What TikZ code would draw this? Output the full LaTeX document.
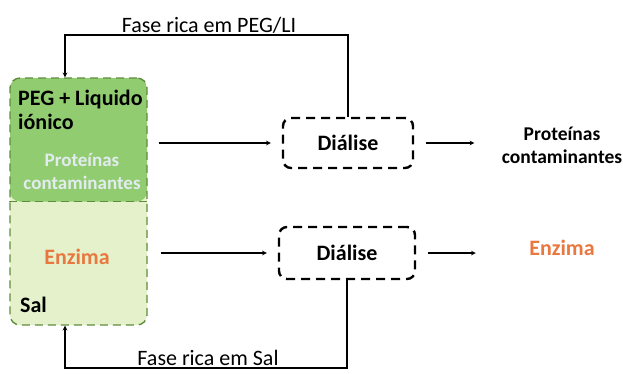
\documentclass[tikz,border=0pt]{standalone}
\usepackage{fontspec}
\setmainfont{Carlito}
\usepackage{tikz}
\usetikzlibrary{positioning,calc}
\tikzset{>=stealth}
\newcommand{\fonteg}{\fontsize{22}{23.5}\selectfont}
\definecolor{pegverde}{RGB}{146,204,112}
\definecolor{salverde}{RGB}{228,241,202}
\definecolor{bordaverde}{RGB}{96,140,62}
\definecolor{laranja}{RGB}{232,120,64}
\definecolor{palido}{RGB}{226,236,240}
\tikzset{
  tubo/.style={draw=bordaverde, dash pattern=on 8pt off 5pt, line width=1.4pt, rounded corners=10pt,
    minimum width=137pt, minimum height=247pt, fill=salverde,
    path picture={\fill[pegverde] (path picture bounding box.north west) rectangle (path picture bounding box.east);}},
  dialise/.style={draw, dash pattern=on 9pt off 6pt, line width=2.4pt, rounded corners=8pt,
    font=\fonteg\bfseries, minimum width=130pt, minimum height=50pt},
  seta/.style={->, line width=1.1pt},
  rotulo/.style={font=\fonteg\bfseries, align=center},
}

\begin{document}
\begin{tikzpicture}[x=1pt,y=-1pt,font=\fonteg]
    \useasboundingbox (0,0) rectangle (623,373);

    \node[tubo] at (78.5,201.5) (tubo) {};
    \draw[bordaverde, dash pattern=on 8pt off 5pt, line width=1.4pt] (tubo.west)--(tubo.east);
    \node[rotulo, align=left, anchor=north west, inner sep=0pt] at (18,90) (peg) {PEG + Liquido\\iónico};
    \node[rotulo, palido, font=\bfseries\fontsize{19}{23}\selectfont] at (82,172) (fantasma) {Proteínas\\contaminantes};
    \node[rotulo, laranja] at (77,257) (enzima1) {Enzima};
    \node[rotulo, anchor=west, inner sep=0pt] at (20,305) (sal) {Sal};

    \node[dialise] at (348,143) (dial1) {Diálise};
    \node[dialise, minimum width=136pt, minimum height=52pt] at (347,253) (dial2) {Diálise};

    \node[rotulo, font=\fontsize{19.5}{23}\selectfont\bfseries] at (562,145) (prot) {Proteínas\\contaminantes};
    \node[rotulo, laranja] at (562,248) (enzima2) {Enzima};

    \draw[seta, shorten <=11pt, shorten >=11pt] (tubo.east |- dial1)--(dial1);
    \draw[seta, shorten <=13pt, shorten >=11pt] (tubo.east |- dial2)--(dial2);
    \draw[seta, shorten <=12pt, shorten >=24pt] (dial1.east)--(dial1.east -| prot.west);
    \draw[seta, shorten <=12pt, shorten >=50pt] (dial2.east)--(dial2.east -| enzima2.west);

    % fases que voltam ao tubo
    \coordinate (topo) at (209,35);
    \coordinate (base) at (208,368);
    \draw[seta] (dial1.north) |- (topo) -| ([xshift=-13.5pt]tubo.north);
    \draw[seta] (dial2.south) |- (base) -| ([xshift=-13.5pt]tubo.south);
    \node[above=-2pt of topo] (fasepeg) {Fase rica em PEG/LI};
    \node[above=-1pt of base] (fasesal) {Fase rica em Sal};
\end{tikzpicture}
\end{document}
